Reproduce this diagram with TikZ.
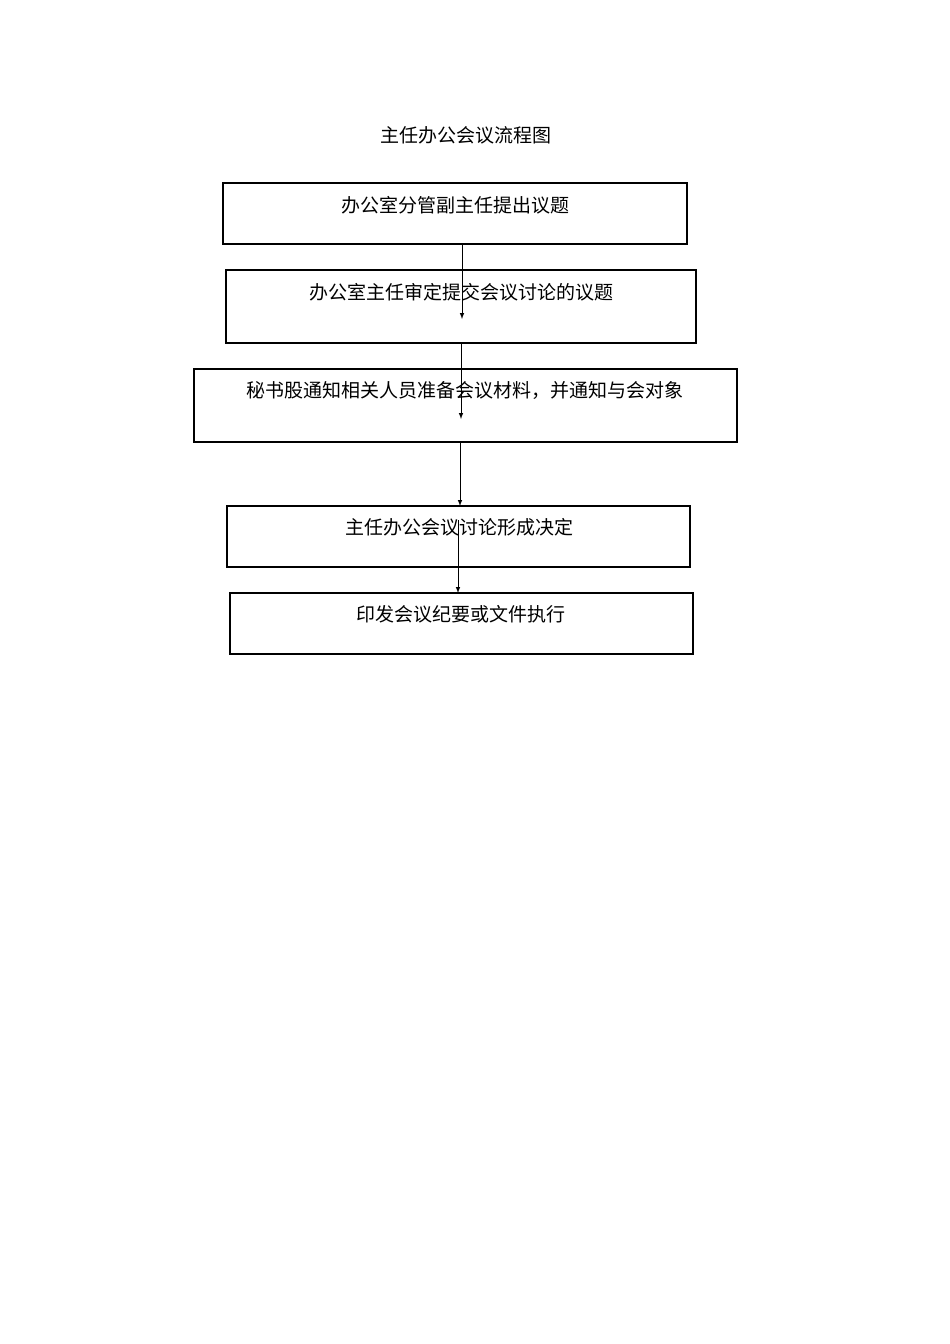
\documentclass[tikz,border=0pt]{standalone}
\usepackage{fontspec}
\setmainfont{Noto Sans CJK SC}
\begin{document}
\begin{tikzpicture}[x=1pt,y=-1pt,
  box/.style={draw,line width=1.2pt},
  lab/.style={font=\fontsize{19}{21}\selectfont,inner sep=0pt},
  arr/.style={-latex,line width=1pt}]
\useasboundingbox (0,0) rectangle (950,1344);
\node[lab] (title) at (466,135) {主任办公会议流程图};
\draw[box] (223,183) rectangle (687,244);
\coordinate (b1s) at (462,244);
\node[lab] (t1) at (455,205) {办公室分管副主任提出议题};
\draw[box] (226,270) rectangle (696,343);
\coordinate (a1) at (462,319);
\coordinate (b2s) at (461,343);
\node[lab] (t2) at (461,292) {办公室主任审定提交会议讨论的议题};
\draw[box] (194,369) rectangle (737,442);
\coordinate (a2) at (461,419);
\coordinate (b3s) at (460,442);
\node[lab] (t3) at (465,390) {秘书股通知相关人员准备会议材料，并通知与会对象};
\draw[box] (227,506) rectangle (690,567);
\coordinate (a3) at (460,506);
\coordinate (b4s) at (458,520);
\node[lab] (t4) at (459,527) {主任办公会议讨论形成决定};
\draw[box] (230,593) rectangle (693,654);
\coordinate (a4) at (458,593);
\node[lab] (t5) at (461,614) {印发会议纪要或文件执行};
\draw[arr] (b1s) -- (a1);
\draw[arr] (b2s) -- (a2);
\draw[arr] (b3s) -- (a3);
\draw[arr] (b4s) -- (a4);
\end{tikzpicture}
\end{document}
